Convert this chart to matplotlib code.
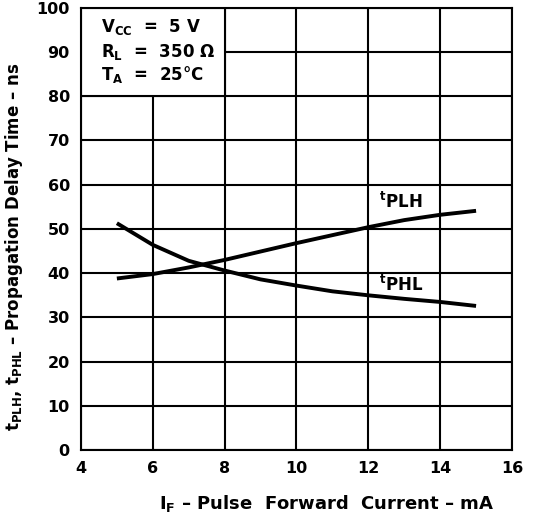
import matplotlib.pyplot as plt
from matplotlib.patches import Rectangle

plt.rcParams['font.family'] = ['DejaVu Sans']
plt.rcParams['font.weight'] = 'bold'
plt.rcParams['mathtext.fontset'] = 'custom'
plt.rcParams['mathtext.rm'] = 'DejaVu Sans:bold'
plt.rcParams['mathtext.it'] = 'DejaVu Sans:bold'
plt.rcParams['mathtext.bf'] = 'DejaVu Sans:bold'

# curve data
i_f = [5, 6, 7, 8, 9, 10, 11, 12, 13, 14, 15]
t_plh = [38.8, 39.8, 41.3, 43.0, 44.9, 46.8, 48.6, 50.4, 52.0, 53.2, 54.1]
t_phl = [51.3, 46.4, 42.8, 40.6, 38.6, 37.2, 35.9, 35.0, 34.2, 33.5, 32.6]

xticks = [4, 6, 8, 10, 12, 14, 16]
yticks = [0, 10, 20, 30, 40, 50, 60, 70, 80, 90, 100]

fig = plt.figure(figsize=(5.47, 5.18), dpi=100)
ax = fig.add_axes([0.148, 0.131, 0.788, 0.854])

ax.plot(i_f, t_plh, color='black', lw=2.8, solid_capstyle='butt', zorder=4)
ax.plot(i_f, t_phl, color='black', lw=2.8, solid_capstyle='butt', zorder=4)

ax.set_xlim(4, 16)
ax.set_ylim(0, 100)
ax.set_xticks(xticks)
ax.set_yticks(yticks)
ax.grid(True, color='black', lw=1.5, zorder=1)
ax.set_axisbelow(True)
for s in ax.spines.values():
    s.set_linewidth(1.5)
ax.tick_params(length=0, labelsize=11.5, pad=8)
for lab in ax.get_xticklabels() + ax.get_yticklabels():
    lab.set_fontweight('bold')

# conditions box
ax.add_patch(Rectangle((4, 80), 4, 20, facecolor='white', edgecolor='black',
                       lw=1.5, zorder=2))
ax.text(4.55, 95.6, r'V$_{\mathrm{CC}}$  =  5 V', fontsize=12, fontweight='bold',
        va='center', zorder=3)
ax.text(4.55, 90.1, r'R$_{\mathrm{L}}$  =  350 Ω', fontsize=12, fontweight='bold',
        va='center', zorder=3)
ax.text(4.55, 84.9, r'T$_{\mathrm{A}}$  =  25°C', fontsize=12, fontweight='bold',
        va='center', zorder=3)

ax.text(12.3, 56.0, r'$^{\mathrm{t}}$PLH', fontsize=12, fontweight='bold', va='center')
ax.text(12.3, 37.3, r'$^{\mathrm{t}}$PHL', fontsize=12, fontweight='bold', va='center')

ax.set_xlabel(r'I$_{\mathrm{F}}$ – Pulse  Forward  Current – mA', fontsize=13,
              fontweight='bold')
ax.xaxis.set_label_coords(0.57, -0.097)
ax.set_ylabel(r't$_{\mathrm{PLH}}$, t$_{\mathrm{PHL}}$ – Propagation Delay Time – ns',
              fontsize=12, fontweight='bold')
ax.yaxis.set_label_coords(-0.13, 0.46)

fig.savefig('out.png', dpi=100)
